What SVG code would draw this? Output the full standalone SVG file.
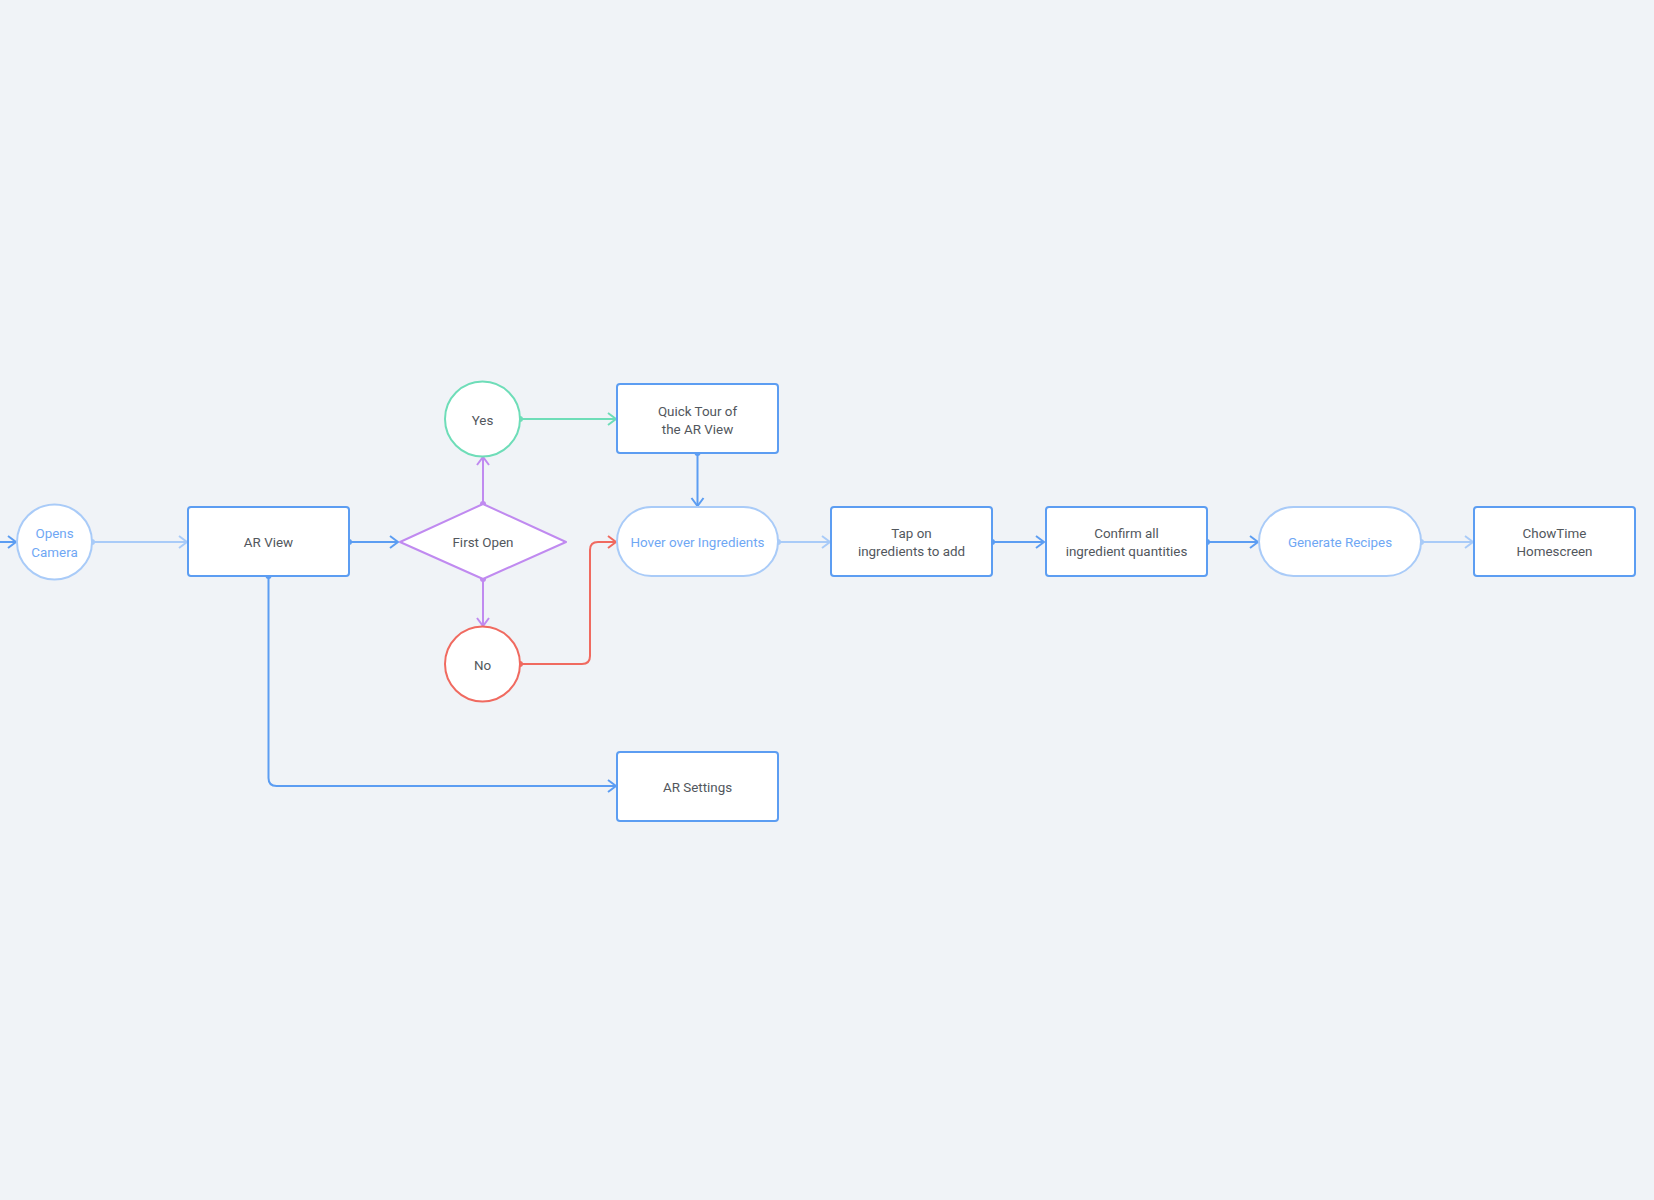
<svg xmlns="http://www.w3.org/2000/svg" width="1654" height="1200" viewBox="0 0 1654 1200">
<style>
  .bg{fill:#F0F3F7}
  .box{fill:#FFFFFF;stroke:#5C9DF2;stroke-width:2}
  .lbox{fill:#FFFFFF;stroke:#A9CBF8;stroke-width:2}
  .t{font-family:Roboto,"Liberation Sans",sans-serif;font-size:13.4px;fill:#52575D;text-anchor:middle}
  .tb{font-family:Roboto,"Liberation Sans",sans-serif;font-size:13.4px;fill:#6FA7F4;text-anchor:middle}
  .c{fill:none;stroke-width:2}
  .blue{stroke:#5C9DF2}
  .light{stroke:#A9CBF8}
  .green{stroke:#6EDDB8}
  .purple{stroke:#C08AF0}
  .red{stroke:#F06A60}
</style>
<defs>
  <marker id="aBlue" markerUnits="userSpaceOnUse" viewBox="-10 -8 12 16" refX="0" refY="0" markerWidth="12" markerHeight="16" orient="auto"><path d="M-8,-6 L0,0 L-8,6" fill="none" stroke="#5C9DF2" stroke-width="2"/></marker>
  <marker id="aLight" markerUnits="userSpaceOnUse" viewBox="-10 -8 12 16" refX="0" refY="0" markerWidth="12" markerHeight="16" orient="auto"><path d="M-8,-6 L0,0 L-8,6" fill="none" stroke="#A9CBF8" stroke-width="2"/></marker>
  <marker id="aGreen" markerUnits="userSpaceOnUse" viewBox="-10 -8 12 16" refX="0" refY="0" markerWidth="12" markerHeight="16" orient="auto"><path d="M-8,-6 L0,0 L-8,6" fill="none" stroke="#6EDDB8" stroke-width="2"/></marker>
  <marker id="aPurple" markerUnits="userSpaceOnUse" viewBox="-10 -8 12 16" refX="0" refY="0" markerWidth="12" markerHeight="16" orient="auto"><path d="M-8,-6 L0,0 L-8,6" fill="none" stroke="#C08AF0" stroke-width="2"/></marker>
  <marker id="aRed" markerUnits="userSpaceOnUse" viewBox="-10 -8 12 16" refX="0" refY="0" markerWidth="12" markerHeight="16" orient="auto"><path d="M-8,-6 L0,0 L-8,6" fill="none" stroke="#F06A60" stroke-width="2"/></marker>
  <marker id="dBlue" markerUnits="userSpaceOnUse" viewBox="-4 -4 8 8" refX="0" refY="0" markerWidth="8" markerHeight="8"><circle r="3" fill="#5C9DF2"/></marker>
  <marker id="dLight" markerUnits="userSpaceOnUse" viewBox="-4 -4 8 8" refX="0" refY="0" markerWidth="8" markerHeight="8"><circle r="3" fill="#A9CBF8"/></marker>
  <marker id="dGreen" markerUnits="userSpaceOnUse" viewBox="-4 -4 8 8" refX="0" refY="0" markerWidth="8" markerHeight="8"><circle r="3" fill="#6EDDB8"/></marker>
  <marker id="dPurple" markerUnits="userSpaceOnUse" viewBox="-4 -4 8 8" refX="0" refY="0" markerWidth="8" markerHeight="8"><circle r="3" fill="#C08AF0"/></marker>
  <marker id="dRed" markerUnits="userSpaceOnUse" viewBox="-4 -4 8 8" refX="0" refY="0" markerWidth="8" markerHeight="8"><circle r="3" fill="#F06A60"/></marker>
</defs>
<rect class="bg" x="0" y="0" width="1654" height="1200"/>

<g id="connectors">
  <path class="c blue" d="M0,542 H16" marker-end="url(#aBlue)"/>
  <path class="c light" d="M92,542 H187" marker-start="url(#dLight)" marker-end="url(#aLight)"/>
  <path class="c blue" d="M349,542 H398" marker-start="url(#dBlue)" marker-end="url(#aBlue)"/>
  <path class="c purple" d="M483,504 V457" marker-start="url(#dPurple)" marker-end="url(#aPurple)"/>
  <path class="c purple" d="M483,579 V626" marker-start="url(#dPurple)" marker-end="url(#aPurple)"/>
  <path class="c green" d="M520,419 H616" marker-start="url(#dGreen)" marker-end="url(#aGreen)"/>
  <path class="c red" d="M520,664 H582 Q590,664 590,656 V550 Q590,542 598,542 H616" marker-start="url(#dRed)" marker-end="url(#aRed)"/>
  <path class="c blue" d="M697.5,453 V506" marker-start="url(#dBlue)" marker-end="url(#aBlue)"/>
  <path class="c blue" d="M268.5,576 V778 Q268.5,786 276.5,786 H616" marker-start="url(#dBlue)" marker-end="url(#aBlue)"/>
  <path class="c light" d="M778,542 H830" marker-start="url(#dLight)" marker-end="url(#aLight)"/>
  <path class="c blue" d="M992,542 H1044" marker-start="url(#dBlue)" marker-end="url(#aBlue)"/>
  <path class="c blue" d="M1207,542 H1258" marker-start="url(#dBlue)" marker-end="url(#aBlue)"/>
  <path class="c light" d="M1421,542 H1473" marker-start="url(#dLight)" marker-end="url(#aLight)"/>
</g>

<g id="opens-camera">
  <circle class="lbox" cx="54.5" cy="542" r="37.5"/>
  <text class="tb" x="54.5" y="538">Opens</text>
  <text class="tb" x="54.5" y="557">Camera</text>
</g>
<g id="ar-view">
  <rect class="box" x="188" y="507" width="161" height="69" rx="3"/>
  <text class="t" x="268.5" y="547">AR View</text>
</g>
<g id="first-open">
  <path d="M400,542 L483,504 L566,542 L483,579 Z" fill="#FFFFFF" stroke="#C08AF0" stroke-width="2" stroke-linejoin="round"/>
  <text class="t" x="483" y="547">First Open</text>
</g>
<g id="yes">
  <circle cx="482.5" cy="419" r="37.5" fill="#FFFFFF" stroke="#6EDDB8" stroke-width="2"/>
  <text class="t" x="482.5" y="425">Yes</text>
</g>
<g id="no">
  <circle cx="482.5" cy="664" r="37.5" fill="#FFFFFF" stroke="#F06A60" stroke-width="2"/>
  <text class="t" x="482.5" y="670">No</text>
</g>
<g id="quick-tour">
  <rect class="box" x="617" y="384" width="161" height="69" rx="3"/>
  <text class="t" x="697.5" y="416">Quick Tour of</text>
  <text class="t" x="697.5" y="434">the AR View</text>
</g>
<g id="hover">
  <rect class="lbox" x="617" y="507" width="161" height="69" rx="34.5"/>
  <text class="tb" x="697.5" y="547">Hover over Ingredients</text>
</g>
<g id="ar-settings">
  <rect class="box" x="617" y="752" width="161" height="69" rx="3"/>
  <text class="t" x="697.5" y="792">AR Settings</text>
</g>
<g id="tap-on">
  <rect class="box" x="831" y="507" width="161" height="69" rx="3"/>
  <text class="t" x="911.5" y="538">Tap on</text>
  <text class="t" x="911.5" y="556">ingredients to add</text>
</g>
<g id="confirm">
  <rect class="box" x="1046" y="507" width="161" height="69" rx="3"/>
  <text class="t" x="1126.5" y="538">Confirm all</text>
  <text class="t" x="1126.5" y="556">ingredient quantities</text>
</g>
<g id="generate">
  <rect class="lbox" x="1259" y="507" width="162" height="69" rx="34.5"/>
  <text class="tb" x="1340" y="547">Generate Recipes</text>
</g>
<g id="chowtime">
  <rect class="box" x="1474" y="507" width="161" height="69" rx="3"/>
  <text class="t" x="1554.5" y="538">ChowTime</text>
  <text class="t" x="1554.5" y="556">Homescreen</text>
</g>
</svg>
